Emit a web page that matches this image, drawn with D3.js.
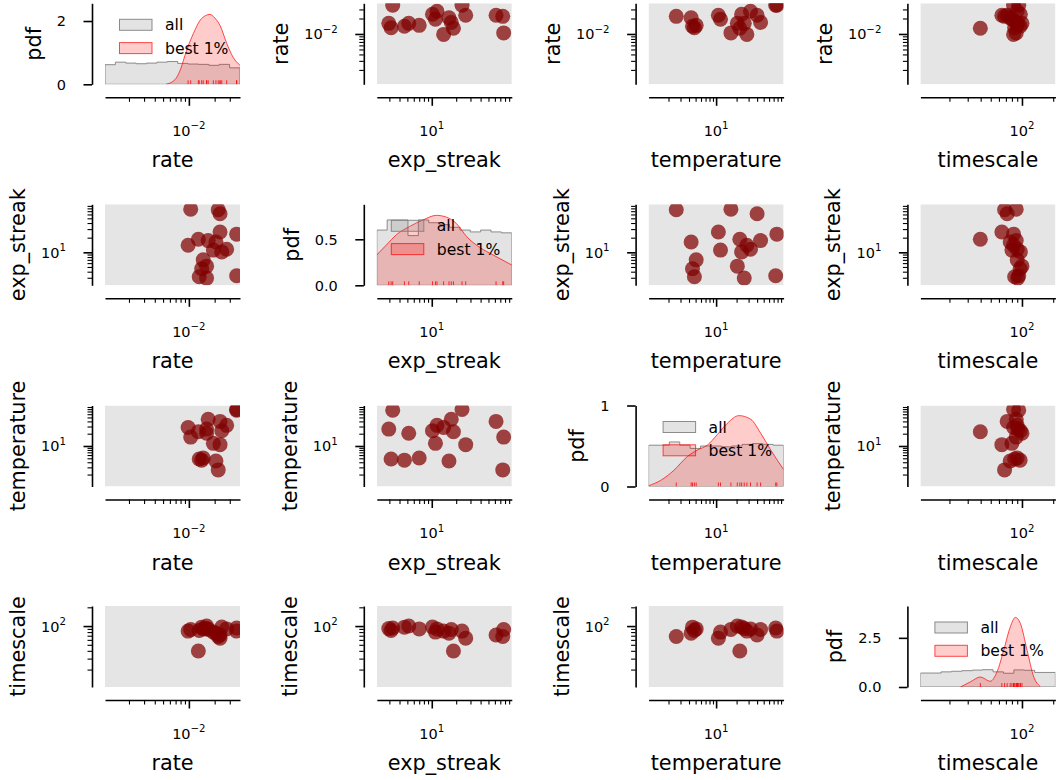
<!DOCTYPE html>
<html>
<head>
<meta charset="utf-8">
<script src="https://cdn.jsdelivr.net/npm/d3@7"></script>
<style>
  body { margin: 0; background: #fff; }
  svg { display: block; font-family: "DejaVu Sans", sans-serif; }
</style>
</head>
<body>
<div id="container"></div>
<script>
/* CONSTANTS AND GLOBALS */
const width = 1056;
const height = 780;
const plotW = 135;
const plotH = 81;
const colLeft = [105, 376.8, 648.6, 920.4];
const rowTop = [3.3, 204.3, 405.5, 606];
const offset = 13; // despined axes sit this far from the data area

/* DATA */
const varNames = ["rate", "exp_streak", "temperature", "timescale"];

// axis ranges (log scale)
const rateDomain = [1.05e-3, 3.95e-2];
const expDomain = [2.1, 97];
const tempDomain = [1.02, 98];
const timeDomain = [10.5, 210];

// the best 1% runs
const bestRate = [0.0361, 0.0361, 0.0276, 0.0242, 0.0231, 0.0231, 0.0220, 0.0207, 0.0193, 0.0168, 0.0161, 0.0161, 0.0147, 0.0141, 0.0132, 0.0129, 0.0105, 0.0098];
const bestExp  = [3.3, 23.6, 11.6, 10.2, 26.2, 62, 75, 16.3, 11.1, 17.4, 5.2, 2.95, 7.0, 4.6, 3.15, 18.5, 77, 14];
const bestTemp = [75, 78, 32, 23.7, 10.8, 40, 2.6, 4.3, 11.6, 45, 20.5, 25.9, 5.1, 4.5, 4.8, 22.3, 16.5, 28.3];
const bestTime = [93, 83, 90, 96.5, 64, 72, 68, 77, 80, 88, 100, 91, 90, 96, 85, 39.7, 88, 83];

// "all" histograms, density per log10 unit, 13 log-spaced bins over the axis range
const rateAllHist = [0.62, 0.70, 0.67, 0.65, 0.67, 0.70, 0.72, 0.66, 0.64, 0.63, 0.60, 0.63, 0.52];
const expAllHist  = [0.60, 0.71, 0.71, 0.54, 0.71, 0.68, 0.66, 0.63, 0.60, 0.58, 0.60, 0.58, 0.57];
const tempAllHist = [0.51, 0.51, 0.55, 0.51, 0.47, 0.50, 0.50, 0.49, 0.50, 0.52, 0.53, 0.52, 0.51];
const timeAllHist = [0.71, 0.71, 0.77, 0.80, 0.83, 0.86, 0.88, 0.77, 0.70, 0.87, 0.85, 0.74, 0.74];

// "best 1%" density curves
const rateKdeX = [0.0054, 0.0069, 0.0079, 0.0094, 0.0113, 0.0135, 0.0156, 0.0176, 0.0200, 0.0231, 0.0276, 0.0329, 0.0395];
const rateKdeY = [0, 0.15, 0.44, 1.07, 1.61, 2.02, 2.17, 2.21, 2.10, 1.86, 1.30, 0.85, 0.60];
const expKdeX = [2.1, 2.77, 3.67, 5.35, 7.8, 11.4, 15.2, 20.2, 26.9, 39.3, 57, 97];
const expKdeY = [0.33, 0.44, 0.55, 0.64, 0.71, 0.76, 0.74, 0.67, 0.53, 0.41, 0.33, 0.22];
const tempKdeX = [1.02, 1.53, 2.4, 3.78, 5.3, 7.4, 10.4, 14.6, 21.7, 32.3, 45, 63.5, 98];
const tempKdeY = [0.01, 0.075, 0.2, 0.37, 0.45, 0.51, 0.64, 0.78, 0.875, 0.83, 0.66, 0.45, 0.21];
const timeKdeX = [25.5, 31.8, 39.7, 49.5, 57.5, 66.7, 77.2, 86.4, 96.6, 112, 130, 150];
const timeKdeY = [0, 0.26, 0.51, 0.29, 0.77, 1.87, 3.06, 3.54, 3.23, 1.87, 0.51, 0.03];

// pdf axes on the diagonal
const pdfMax = [2.56, 0.88, 1.0, 4.12];
const pdfTicks = [[0, 2], [0, 0.5], [0, 1], [0, 2.5]];
const pdfTickLabels = [["0", "2"], ["0.0", "0.5"], ["0", "1"], ["0.0", "2.5"]];

const legendLabels = ["all", "best 1%"];

const vars = [
  { name: varNames[0], domain: rateDomain, best: bestRate, hist: rateAllHist, kdeX: rateKdeX, kdeY: rateKdeY },
  { name: varNames[1], domain: expDomain, best: bestExp, hist: expAllHist, kdeX: expKdeX, kdeY: expKdeY },
  { name: varNames[2], domain: tempDomain, best: bestTemp, hist: tempAllHist, kdeX: tempKdeX, kdeY: tempKdeY },
  { name: varNames[3], domain: timeDomain, best: bestTime, hist: timeAllHist, kdeX: timeKdeX, kdeY: timeKdeY }
];

/* STYLE */
const tickFont = 14.5;
const supFont = 10.2;
const labelFont = 20.8;
const legendFont = 15.6;
const textColor = "#000";

const svg = d3.select("#container")
  .append("svg")
  .attr("width", width)
  .attr("height", height);

svg.append("rect").attr("width", width).attr("height", height).attr("fill", "#fff");
const defs = svg.append("defs");

function logTicks(domain) {
  const [lo, hi] = domain;
  const major = [], minor = [];
  for (let e = Math.floor(Math.log10(lo)); e <= Math.ceil(Math.log10(hi)); e++) {
    for (let k = 1; k < 10; k++) {
      const v = k * Math.pow(10, e);
      if (v < lo || v > hi) continue;
      (k === 1 ? major : minor).push(v);
    }
  }
  return { major, minor };
}

function styleAxis(ax, width) {
  ax.attr("font-size", null).attr("font-family", null);
  ax.selectAll(".domain").attr("stroke", "#000").attr("stroke-width", 1.6);
  ax.selectAll(".tick line").attr("stroke", "#000").attr("stroke-width", width);
}

// power-of-ten label like 10^-2
function powLabel(sel, v) {
  const e = Math.round(Math.log10(v));
  sel.append("tspan").text("10");
  sel.append("tspan")
    .attr("font-size", supFont)
    .attr("dy", -6.5)
    .text(String(e).replace("-", "\u2212"));
}

function xLogAxis(g, x, domain, y) {
  const t = logTicks(domain);
  const ax = g.append("g").attr("transform", `translate(0,${y})`);
  ax.call(d3.axisBottom(x).tickValues(t.minor).tickSize(4.5).tickSizeOuter(0).tickFormat(""));
  styleAxis(ax, 1.1);
  const axM = g.append("g").attr("transform", `translate(0,${y})`);
  axM.call(d3.axisBottom(x).tickValues(t.major).tickSize(8.5).tickSizeOuter(0).tickFormat(""));
  axM.select(".domain").remove();
  styleAxis(axM, 1.6);
  t.major.forEach(v => {
    g.append("text")
      .attr("x", x(v))
      .attr("y", y + 38.5)
      .attr("text-anchor", "middle")
      .attr("font-size", tickFont)
      .attr("fill", textColor)
      .call(powLabel, v);
  });
}

function yLogAxis(g, y, domain, x) {
  const t = logTicks(domain);
  const ax = g.append("g").attr("transform", `translate(${x},0)`);
  ax.call(d3.axisLeft(y).tickValues(t.minor).tickSize(4.5).tickSizeOuter(0).tickFormat(""));
  styleAxis(ax, 1.1);
  const axM = g.append("g").attr("transform", `translate(${x},0)`);
  axM.call(d3.axisLeft(y).tickValues(t.major).tickSize(8.5).tickSizeOuter(0).tickFormat(""));
  axM.select(".domain").remove();
  styleAxis(axM, 1.6);
  const labels = g.append("g");
  t.major.forEach(v => {
    labels.append("text")
      .attr("x", x - 26)
      .attr("y", y(v) + 5.5)
      .attr("text-anchor", "end")
      .attr("font-size", tickFont)
      .attr("fill", textColor)
      .call(powLabel, v);
  });
  return labels;
}

function yLinAxis(g, y, ticks, tickLabels, x) {
  const ax = g.append("g").attr("transform", `translate(${x},0)`);
  ax.call(d3.axisLeft(y).tickValues(ticks).tickSize(8.5).tickSizeOuter(0).tickFormat(""));
  styleAxis(ax, 1.6);
  const labels = g.append("g");
  ticks.forEach((v, k) => {
    labels.append("text")
      .attr("x", x - 26)
      .attr("y", y(v) + 5.3)
      .attr("text-anchor", "end")
      .attr("font-size", tickFont)
      .attr("fill", textColor)
      .text(tickLabels[k]);
  });
  return labels;
}

/* PANELS */
vars.forEach((vy, i) => {
  vars.forEach((vx, j) => {
    const left = colLeft[j];
    const top = rowTop[i];
    const bottom = top + plotH;
    const g = svg.append("g").attr("class", `panel-${i}-${j}`);

    const clipId = `clip-${i}-${j}`;
    defs.append("clipPath").attr("id", clipId)
      .append("rect").attr("x", left).attr("y", top).attr("width", plotW).attr("height", plotH);

    const x = d3.scaleLog().domain(vx.domain).range([left, left + plotW]);
    let yLabels;

    if (i === j) {
      // diagonal: histogram of all runs + density of the best runs
      const y = d3.scaleLinear().domain([0, pdfMax[i]]).range([bottom, top]);
      const plot = g.append("g").attr("clip-path", `url(#${clipId})`);

      const lx = d3.scaleLinear().domain([0, vx.hist.length])
        .range([Math.log10(vx.domain[0]), Math.log10(vx.domain[1])]);
      const edges = d3.range(vx.hist.length + 1).map(k => Math.pow(10, lx(k)));
      const pts = [[x(edges[0]), y(0)]];
      vx.hist.forEach((h, k) => {
        pts.push([x(edges[k]), y(h)]);
        pts.push([x(edges[k + 1]), y(h)]);
      });
      pts.push([x(edges[edges.length - 1]), y(0)]);
      plot.append("path")
        .attr("d", d3.line()(pts) + "Z")
        .attr("fill", "#808080")
        .attr("fill-opacity", 0.22)
        .attr("stroke", "#808080")
        .attr("stroke-opacity", 0.9)
        .attr("stroke-width", 1);

      const kde = vx.kdeX.map((v, k) => [v, vx.kdeY[k]]);
      plot.append("path")
        .datum(kde)
        .attr("d", d3.area().curve(d3.curveMonotoneX)
          .x(d => x(d[0])).y0(y(0)).y1(d => y(d[1])))
        .attr("fill", "red")
        .attr("fill-opacity", 0.2);
      plot.append("path")
        .datum(kde)
        .attr("d", d3.line().curve(d3.curveMonotoneX)
          .x(d => x(d[0])).y(d => y(d[1])))
        .attr("fill", "none")
        .attr("stroke", "red")
        .attr("stroke-opacity", 0.7)
        .attr("stroke-width", 1);

      // rug
      plot.selectAll(".rug")
        .data(vx.best)
        .join("line")
        .attr("class", "rug")
        .attr("x1", d => x(d)).attr("x2", d => x(d))
        .attr("y1", bottom).attr("y2", bottom - 4)
        .attr("stroke", "red")
        .attr("stroke-opacity", 0.8)
        .attr("stroke-width", 1);

      // legend
      const lg = g.append("g").attr("transform", `translate(${left + 14.5},${top + 16})`);
      legendLabels.forEach((lab, k) => {
        const r = lg.append("rect")
          .attr("x", 0).attr("y", k * 23.3)
          .attr("width", 32.5).attr("height", 11);
        if (k === 0) {
          r.attr("fill", "#808080").attr("fill-opacity", 0.22)
            .attr("stroke", "#808080").attr("stroke-opacity", 0.9);
        } else {
          r.attr("fill", "red").attr("fill-opacity", 0.2)
            .attr("stroke", "red").attr("stroke-opacity", 0.7);
        }
        lg.append("text")
          .attr("x", 45.5)
          .attr("y", k * 23.3 + 5.5)
          .attr("dy", "0.36em")
          .attr("font-size", legendFont)
          .attr("fill", textColor)
          .text(lab);
      });

      yLabels = yLinAxis(g, y, pdfTicks[i], pdfTickLabels[i], left - offset);
    } else {
      // off-diagonal: scatter of the best runs on top of all runs
      const y = d3.scaleLog().domain(vy.domain).range([bottom, top]);
      const plot = g.append("g").attr("clip-path", `url(#${clipId})`);
      plot.append("rect")
        .attr("x", left).attr("y", top).attr("width", plotW).attr("height", plotH)
        .attr("fill", "#e5e5e5");
      plot.selectAll("circle")
        .data(d3.range(vx.best.length))
        .join("circle")
        .attr("cx", k => x(vx.best[k]))
        .attr("cy", k => y(vy.best[k]))
        .attr("r", 7.5)
        .attr("fill", "#7f0000")
        .attr("fill-opacity", 0.72);

      yLabels = yLogAxis(g, y, vy.domain, left - offset);
    }

    xLogAxis(g, x, vx.domain, bottom + offset);

    // axis titles
    g.append("text")
      .attr("x", left + plotW / 2)
      .attr("y", bottom + offset + 70)
      .attr("text-anchor", "middle")
      .attr("font-size", labelFont)
      .attr("fill", textColor)
      .text(vx.name);

    const bb = yLabels.node().getBBox();
    const lxPos = bb.x - 16;
    const cy = top + plotH / 2;
    g.append("text")
      .attr("transform", `translate(${lxPos},${cy}) rotate(-90)`)
      .attr("text-anchor", "middle")
      .attr("font-size", labelFont)
      .attr("fill", textColor)
      .text(i === j ? "pdf" : vy.name);
  });
});
</script>
</body>
</html>
